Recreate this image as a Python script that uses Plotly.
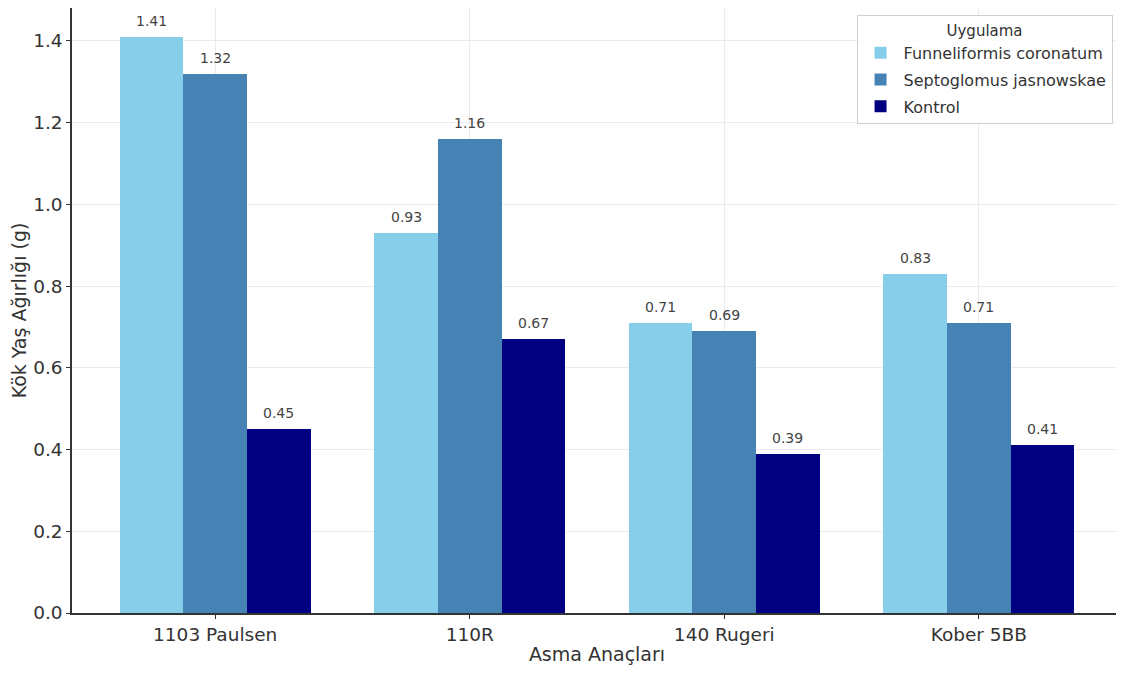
import plotly.graph_objects as go

categories = ["1103 Paulsen", "110R", "140 Rugeri", "Kober 5BB"]
series_names = ["Funneliformis coronatum", "Septoglomus jasnowskae", "Kontrol"]
funneliformis = [1.41, 0.93, 0.71, 0.83]
septoglomus = [1.32, 1.16, 0.69, 0.71]
kontrol = [0.45, 0.67, 0.39, 0.41]
colors = ["#87CEEB", "#4682B4", "#000080"]

series = [funneliformis, septoglomus, kontrol]
width = 0.25
offsets = [-width, 0, width]
FONT = "DejaVu Sans"

fig = go.Figure()
for name, vals, col, off in zip(series_names, series, colors, offsets):
    xs = [i + off for i in range(len(categories))]
    fig.add_trace(go.Bar(x=xs, y=vals, width=width, name=name, legendgroup=name,
                         marker=dict(color=col, line=dict(width=0))))
    for x, v in zip(xs, vals):
        fig.add_annotation(x=x, y=v, text=f"{v:.2f}", showarrow=False,
                           yanchor="bottom", yshift=6,
                           font=dict(family=FONT, size=14, color="#444444"))

fig.update_layout(
    width=1116, height=667,
    margin=dict(l=64, r=2, t=0, b=62),
    paper_bgcolor="white", plot_bgcolor="white",
    font=dict(family=FONT, color="#262626"),
    bargap=0, showlegend=True,
    legend=dict(title=dict(text="Uygulama", side="top center", font=dict(family=FONT, size=15, color="#333333")),
                x=0.991, y=0.988, xanchor="right", yanchor="top",
                bgcolor="rgba(255,255,255,0.85)", bordercolor="#d0d0d0", borderwidth=1,
                font=dict(family=FONT, size=16, color="#333333"), itemwidth=36,
                traceorder="grouped", tracegroupgap=3),
    xaxis=dict(range=[-0.5625, 3.5625], tickmode="array", tickvals=list(range(len(categories))),
               ticktext=categories, showgrid=True, gridcolor="#ebebeb", gridwidth=1,
               showline=True, linecolor="#333333", linewidth=1.5, ticks="outside",
               ticklen=4, tickcolor="#333333", tickfont=dict(family=FONT, size=18.5, color="#333333"),
               title=dict(text="Asma Anaçları", font=dict(family=FONT, size=19, color="#333333"), standoff=4),
               zeroline=False, automargin=False),
    yaxis=dict(range=[0, 1.4805], tickmode="array", tickvals=[0, 0.2, 0.4, 0.6, 0.8, 1.0, 1.2, 1.4],
               tickformat=".1f", showgrid=True, gridcolor="#ebebeb", gridwidth=1,
               showline=True, linecolor="#333333", linewidth=1.5, ticks="outside",
               ticklen=4, tickcolor="#333333", tickfont=dict(family=FONT, size=18.5, color="#333333"),
               title=dict(text="Kök Yaş Ağırlığı (g)", font=dict(family=FONT, size=19, color="#333333"), standoff=6),
               zeroline=False, automargin=False),
)

fig.write_html("out.html")
